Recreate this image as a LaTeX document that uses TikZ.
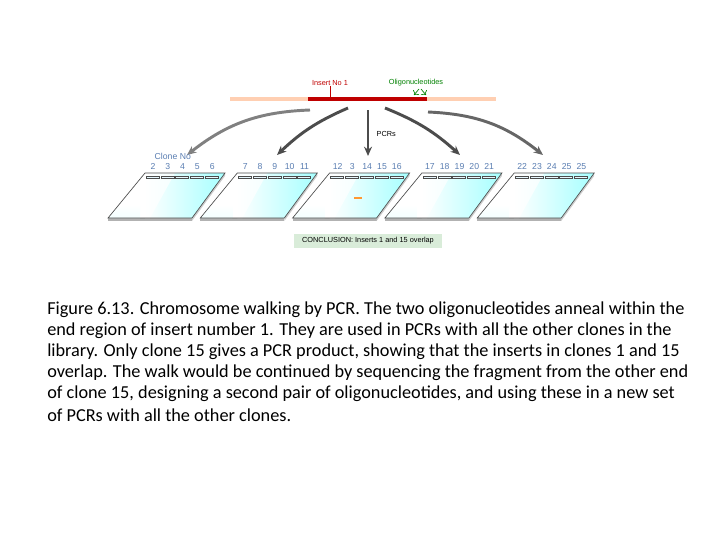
\documentclass[tikz,border=0pt]{standalone}
\usepackage{fontspec}
\usetikzlibrary{arrows.meta}
\setmainfont{Carlito}
\newfontfamily\lab{Liberation Sans}
\begin{document}
\begin{tikzpicture}[x=0.75pt,y=-0.75pt,
  pcr/.style={-{Stealth[length=7pt,width=6pt]},line width=2.2pt,draw=black!70},
  num/.style={font=\lab\fontsize{6.5}{7}\selectfont,text=cyan!50!blue!60!gray,anchor=base},
  captext/.style={anchor=west,font=\fontsize{13.7}{15}\selectfont,inner sep=0}]
\useasboundingbox (0,0) rectangle (720,540);
% insert
\draw[line width=2.5pt,red!25!orange!30] (230,99) -- (496,99);
\draw[line width=2.5pt,red!75!black] (308,99) -- (427,99);
\draw[red!75!black,line width=0.6pt] (330,86) -- (330,98);
\node[font=\lab\fontsize{5.5}{6}\selectfont,text=red!75!black] (ins) at (330,83) {Insert No 1};
\node[font=\lab\fontsize{5.5}{6}\selectfont,text=green!50!black] (oli) at (416,83) {Oligonucleotides};
\draw[green!50!black,line width=0.5pt,->] (419,89) -- (414,95);
\draw[green!50!black,line width=0.5pt,->] (421,89) -- (426,95);
% arrows
\coordinate (s1) at (310,110); \coordinate (e1) at (187,155);
\coordinate (s2) at (348,108); \coordinate (e2) at (277,155);
\coordinate (s3) at (368,110); \coordinate (e3) at (368,156);
\coordinate (s4) at (385,108); \coordinate (e4) at (460,155);
\coordinate (s5) at (428,112); \coordinate (e5) at (543,155);
\draw[pcr,black!50] (s1) to[bend right=18] (e1);
\draw[pcr] (s2) to[bend right=10] (e2);
\draw[pcr] (s3) -- (e3);
\draw[pcr] (s4) to[bend left=10] (e4);
\draw[pcr,black!60] (s5) to[bend left=18] (e5);
\node[font=\lab\fontsize{5.5}{6}\selectfont,anchor=west] (pcrs) at (372,134) {PCRs};
\node[font=\lab\fontsize{6.5}{7}\selectfont,text=cyan!50!blue!60!gray,anchor=west] (cn) at (150,156) {Clone No};
% gels
\foreach \i/\a/\b/\c/\d/\e in {0/2/3/4/5/6,1/7/8/9/10/11,2/12/3/14/15/16,3/17/18/19/20/21,4/22/23/24/25/25}{
 \begin{scope}[xshift=\i*92.3*0.75pt]
  \fill[gray!60] (108,218) -- (192,218) -- (192,221) -- (108,221) -- cycle;
  \fill[gray!40] (192,218) -- (225,173) -- (225,176) -- (192,221) -- cycle;
  \begin{scope}
   \clip (145,173) -- (225,173) -- (192,218) -- (108,218) -- cycle;
   \shade[left color=white,right color=cyan!35] (145,173) rectangle (225,218);
   \shade[bottom color=cyan!15,top color=white] (108,205) rectangle (140,218);
   \fill[white,opacity=0.7] (108,218) -- (145,173) -- (175,173) -- (150,218) -- cycle;
  \end{scope}
  \draw[line width=0.5pt,black!70] (145,173) -- (225,173) -- (192,218) -- (108,218) -- cycle;
  \foreach \k/\n in {0/\a,1/\b,2/\c,3/\d,4/\e}{
    \node[num] at (153+\k*14.8,169) {\n};
    \draw[line width=0.3pt,draw=black!70,fill=cyan!10] (146+\k*14.8,176) rectangle (159+\k*14.8,178);
  }
 \end{scope}}
\fill[orange!80] (354,197) rectangle (362,199);
\node[fill=green!50!black!15,font=\lab\fontsize{5.5}{6}\selectfont,minimum width=111pt,inner xsep=4pt,inner ysep=3pt] (conc) at (368,241) {CONCLUSION: Inserts 1 and 15 overlap};
% caption
\node[captext] (c1) at (47,310) {Figure 6.13. Chromosome walking by PCR. The two oligonucleotides anneal within the};
\node[captext] (c2) at (47,331) {end region of insert number 1. They are used in PCRs with all the other clones in the};
\node[captext] (c3) at (47,352) {library. Only clone 15 gives a PCR product, showing that the inserts in clones 1 and 15};
\node[captext] (c4) at (47,373) {overlap. The walk would be continued by sequencing the fragment from the other end};
\node[captext] (c5) at (47,394) {of clone 15, designing a second pair of oligonucleotides, and using these in a new set};
\node[captext] (c6) at (47,415) {of PCRs with all the other clones.};
\end{tikzpicture}
\end{document}
